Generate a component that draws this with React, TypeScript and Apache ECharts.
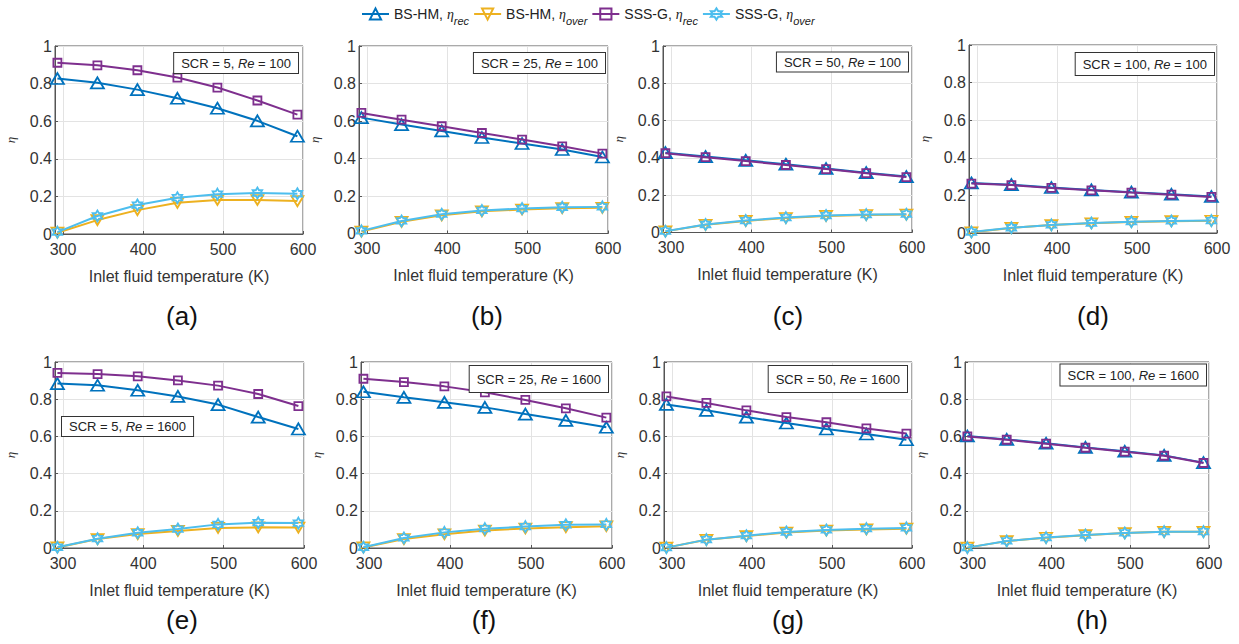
import React, { useEffect, useRef } from "react";
import * as echarts from "echarts";

// ---------- data ----------
const temperatures = [293, 343, 393, 443, 493, 543, 593];
const xTickValues = [300, 400, 500, 600];
const seriesNames = ["BS-HM rec", "BS-HM over", "SSS-G rec", "SSS-G over"];
const panelLetters = ["(a)", "(b)", "(c)", "(d)", "(e)", "(f)", "(g)", "(h)"];
const panelSCR = [5, 25, 50, 100, 5, 25, 50, 100];
const panelRe = [100, 100, 100, 100, 1600, 1600, 1600, 1600];

// (a) SCR = 5, Re = 100
const aBsRec = [0.827, 0.804, 0.768, 0.722, 0.669, 0.602, 0.52];
const aBsOver = [0.007, 0.074, 0.127, 0.166, 0.181, 0.181, 0.175];
const aSsRec = [0.911, 0.897, 0.871, 0.832, 0.779, 0.71, 0.635];
const aSsOver = [0.01, 0.096, 0.154, 0.193, 0.212, 0.218, 0.214];
// (b) SCR = 25, Re = 100
const bBsRec = [0.618, 0.581, 0.547, 0.512, 0.48, 0.448, 0.408];
const bBsOver = [0.01, 0.062, 0.097, 0.118, 0.128, 0.135, 0.137];
const bSsRec = [0.643, 0.607, 0.572, 0.536, 0.501, 0.465, 0.426];
const bSsOver = [0.014, 0.067, 0.103, 0.123, 0.133, 0.14, 0.142];
// (c) SCR = 50, Re = 100
const cBsRec = [0.428, 0.407, 0.387, 0.366, 0.343, 0.321, 0.3];
const cBsOver = [0.006, 0.041, 0.062, 0.078, 0.089, 0.094, 0.096];
const cSsRec = [0.425, 0.404, 0.383, 0.362, 0.34, 0.318, 0.297];
const cSsOver = [0.007, 0.043, 0.064, 0.08, 0.091, 0.096, 0.098];
// (d) SCR = 100, Re = 100
const dBsRec = [0.266, 0.257, 0.242, 0.229, 0.217, 0.206, 0.194];
const dBsOver = [0.004, 0.027, 0.042, 0.052, 0.059, 0.063, 0.065];
const dSsRec = [0.263, 0.255, 0.24, 0.227, 0.215, 0.204, 0.192];
const dSsOver = [0.005, 0.028, 0.043, 0.053, 0.06, 0.064, 0.066];
// (e) SCR = 5, Re = 1600
const eBsRec = [0.884, 0.875, 0.848, 0.815, 0.771, 0.704, 0.64];
const eBsOver = [0.003, 0.048, 0.075, 0.092, 0.108, 0.111, 0.11];
const eSsRec = [0.941, 0.935, 0.923, 0.901, 0.873, 0.828, 0.763];
const eSsOver = [0.004, 0.05, 0.082, 0.102, 0.127, 0.136, 0.134];
// (f) SCR = 25, Re = 1600
const fBsRec = [0.84, 0.81, 0.783, 0.756, 0.72, 0.686, 0.649];
const fBsOver = [0.003, 0.048, 0.074, 0.094, 0.105, 0.112, 0.117];
const fSsRec = [0.91, 0.892, 0.869, 0.837, 0.796, 0.751, 0.701];
const fSsOver = [0.004, 0.054, 0.084, 0.104, 0.115, 0.125, 0.127];
// (g) SCR = 50, Re = 1600
const gBsRec = [0.772, 0.74, 0.704, 0.672, 0.64, 0.613, 0.582];
const gBsOver = [0.002, 0.044, 0.064, 0.083, 0.094, 0.1, 0.104];
const gSsRec = [0.815, 0.78, 0.74, 0.704, 0.676, 0.643, 0.615];
const gSsOver = [0.002, 0.045, 0.066, 0.086, 0.097, 0.104, 0.108];
// (h) SCR = 100, Re = 1600
const hBsRec = [0.602, 0.584, 0.563, 0.541, 0.52, 0.498, 0.459];
const hBsOver = [0.002, 0.037, 0.055, 0.069, 0.08, 0.087, 0.087];
const hSsRec = [0.6, 0.582, 0.561, 0.539, 0.518, 0.496, 0.457];
const hSsOver = [0.002, 0.038, 0.056, 0.07, 0.081, 0.088, 0.088];

const panelData = [
  [aBsRec, aBsOver, aSsRec, aSsOver],
  [bBsRec, bBsOver, bSsRec, bSsOver],
  [cBsRec, cBsOver, cSsRec, cSsOver],
  [dBsRec, dBsOver, dSsRec, dSsOver],
  [eBsRec, eBsOver, eSsRec, eSsOver],
  [fBsRec, fBsOver, fSsRec, fSsOver],
  [gBsRec, gBsOver, gSsRec, gSsOver],
  [hBsRec, hBsOver, hSsRec, hSsOver],
];

// ---------- layout / style ----------
const FONT = '"Liberation Sans", Arial, sans-serif';
const grids = [
  { left: 55, top: 46, width: 248, height: 188 },
  { left: 359, top: 46, width: 249, height: 187.5 },
  { left: 663, top: 46, width: 249, height: 186.5 },
  { left: 969, top: 45, width: 248, height: 188 },
  { left: 55, top: 362, width: 249, height: 186 },
  { left: 361, top: 362, width: 251, height: 186 },
  { left: 664, top: 362, width: 248, height: 186 },
  { left: 965, top: 362, width: 244, height: 186 },
];
const letterPos = [
  [182, 316], [487, 316], [788, 316], [1093, 316],
  [182, 620], [484, 620], [788, 620], [1092, 620],
];
// box: [x, y, align, padV]
const boxPos: [number, number, string, number][] = [
  [298, 53, "right", 2],
  [605, 53, "right", 2],
  [908, 52.5, "right", 1.5],
  [1214, 53, "right", 3],
  [62, 417, "left", 1.5],
  [608, 366, "right", 5],
  [907, 366, "right", 5],
  [1206, 364.5, "right", 2.5],
];

const colors = ["#0072BD", "#EDB120", "#7E2F8E", "#4DBEEE"];
const hexagram =
  "path://M0,-10L2.887,-5L8.66,-5L5.774,0L8.66,5L2.887,5L0,10L-2.887,5L-8.66,5L-5.774,0L-8.66,-5L-2.887,-5Z";
const symbols = ["triangle", "triangle", "rect", hexagram];
const symbolRotates = [0, 180, 0, 0];
const symbolSizes: any[] = [[13, 11], [12, 10], 8, 11];

const legendRich: Record<string, string> = {
  "BS-HM rec": "{n|BS-HM, }{e|η}{s|rec}",
  "BS-HM over": "{n|BS-HM, }{e|η}{s|over}",
  "SSS-G rec": "{n|SSS-G, }{e|η}{s|rec}",
  "SSS-G over": "{n|SSS-G, }{e|η}{s|over}",
};

function buildOption() {
  const gridOpt = grids.map((g) => ({
    ...g,
    show: true,
    borderColor: "#555",
    borderWidth: 1,
    backgroundColor: "#fff",
    containLabel: false,
  }));

  const xAxes = grids.map((_, i) => ({
    type: "value",
    gridIndex: i,
    min: 290,
    max: 600,
    splitNumber: 3,
    axisLine: { show: true, lineStyle: { color: "#555" } },
    axisTick: { show: true, inside: true, length: 3, lineStyle: { color: "#555" } },
    splitLine: { show: true, lineStyle: { color: "#e3e3e3", width: 1 } },
    axisLabel: {
      color: "#333",
      fontSize: 16,
      fontFamily: FONT,
      margin: 7,
      formatter: (v: number) => (xTickValues.includes(Math.round(v)) ? String(Math.round(v)) : ""),
    },
    name: "Inlet fluid temperature (K)",
    nameLocation: "middle",
    nameGap: 34,
    nameTextStyle: { color: "#333", fontSize: 16, fontFamily: FONT },
  }));

  const yAxes = grids.map((_, i) => ({
    type: "value",
    gridIndex: i,
    min: 0,
    max: 1,
    interval: 0.2,
    axisLine: { show: true, lineStyle: { color: "#555" } },
    axisTick: { show: true, inside: true, length: 3, lineStyle: { color: "#555" } },
    splitLine: { show: true, lineStyle: { color: "#e3e3e3", width: 1 } },
    axisLabel: {
      color: "#333",
      fontSize: 16,
      fontFamily: FONT,
      margin: 3,
      formatter: (v: number) => String(Math.round(v * 10) / 10),
    },
    name: "η",
    nameLocation: "middle",
    nameGap: 38,
    nameTextStyle: {
      color: "#333",
      fontSize: 13,
      fontStyle: "italic",
      fontFamily: '"Liberation Serif", serif',
    },
  }));

  const series: any[] = [];
  panelData.forEach((panel, p) => {
    panel.forEach((vals, k) => {
      series.push({
        type: "line",
        name: seriesNames[k],
        xAxisIndex: p,
        yAxisIndex: p,
        data: temperatures.map((t, j) => [t, vals[j]]),
        symbol: symbols[k],
        symbolSize: symbolSizes[k],
        symbolRotate: symbolRotates[k],
        symbolKeepAspect: k === 3,
        showAllSymbol: true,
        lineStyle: { color: colors[k], width: 2 },
        itemStyle: { color: "rgba(255,255,255,0)", borderColor: colors[k], borderWidth: 1.8 },
        emphasis: { disabled: true },
        z: 2 + k,
      });
    });
  });

  const graphics: any[] = [];
  panelLetters.forEach((l, i) => {
    graphics.push({
      type: "text",
      x: letterPos[i][0],
      y: letterPos[i][1],
      style: {
        text: l,
        fill: "#111",
        font: `26px ${FONT}`,
        align: "center",
        verticalAlign: "middle",
      },
    });
  });
  boxPos.forEach((b, i) => {
    graphics.push({
      type: "text",
      x: b[0],
      y: b[1],
      z: 100,
      style: {
        text: `{t|SCR = ${panelSCR[i]}, }{i|Re}{t| = ${panelRe[i]}}`,
        rich: {
          t: { fontSize: 13, fontFamily: FONT, fill: "#222", lineHeight: 16 },
          i: { fontSize: 13, fontFamily: FONT, fontStyle: "italic", fill: "#222", lineHeight: 16 },
        },
        align: b[2],
        verticalAlign: "top",
        backgroundColor: "#fff",
        borderColor: "#333",
        borderWidth: 1,
        padding: [b[3], 7, b[3], 7],
      },
    });
  });

  return {
    animation: false,
    backgroundColor: "#fff",
    grid: gridOpt,
    xAxis: xAxes,
    yAxis: yAxes,
    legend: {
      data: seriesNames,
      left: 356,
      top: 2,
      itemWidth: 27,
      itemHeight: 14,
      itemGap: 4,
      selectedMode: false,
      formatter: (name: string) => legendRich[name],
      textStyle: {
        color: "#222",
        rich: {
          n: { fontSize: 14, fontFamily: FONT, lineHeight: 24, verticalAlign: "middle" },
          e: {
            fontSize: 14,
            fontStyle: "italic",
            fontFamily: '"Liberation Serif", serif',
            lineHeight: 24,
            verticalAlign: "middle",
          },
          s: {
            fontSize: 11,
            fontStyle: "italic",
            fontFamily: FONT,
            lineHeight: 13,
            verticalAlign: "bottom",
          },
        },
      },
    },
    graphic: graphics,
    series,
  };
}

export default function App() {
  const ref = useRef<HTMLDivElement>(null);
  useEffect(() => {
    if (!ref.current) return;
    const chart = echarts.init(ref.current, undefined, { renderer: "svg" });
    chart.setOption(buildOption() as any);
    return () => chart.dispose();
  }, []);
  return (
    <div
      ref={ref}
      style={{ position: "absolute", left: 0, top: 0, width: 1239, height: 644, background: "#fff" }}
    />
  );
}
